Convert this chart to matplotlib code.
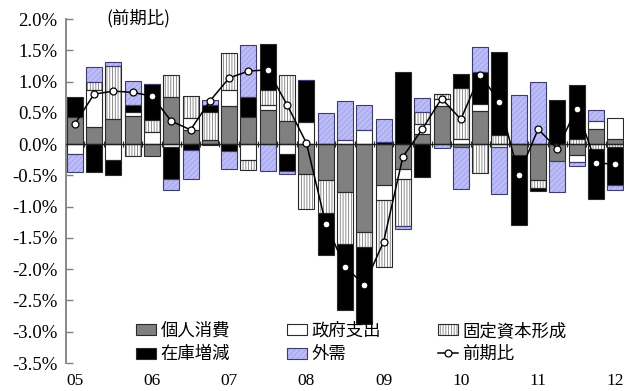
import numpy as np
import matplotlib
matplotlib.use("Agg")
import matplotlib.pyplot as plt
from matplotlib.patches import Patch
from matplotlib.lines import Line2D

# Quarterly contributions to real GDP growth (q/q, percentage points), 2005Q1-2012Q1
quarters = [f"{y}Q{q}" for y in range(2005, 2013) for q in range(1, 5)][:29]

private_consumption = [0.44, 0.28, 0.41, 0.45, -0.19, 0.76, 0.22, 0.07, 0.61, 0.44,
                       0.54, 0.37, -0.47, -0.57, -0.76, -1.40, -0.65, -0.40, 0.17, 0.61,
                       -0.05, 0.53, 0.00, -0.17, -0.57, -0.27, -0.17, 0.25, 0.08]
government = [-0.15, 0.59, -0.25, 0.06, 0.19, -0.04, 0.20, -0.02, 0.25, -0.26,
              0.08, -0.15, 0.36, 0.00, 0.07, 0.22, -0.24, -0.15, 0.16, 0.12,
              0.09, 0.12, -0.05, 0.00, 0.00, 0.00, -0.12, 0.12, 0.34]
fixed_capital = [0.00, 0.12, 0.84, -0.19, 0.19, 0.34, 0.35, 0.45, 0.60, -0.16,
                 0.24, 0.73, -0.56, -0.53, -0.84, -0.24, -1.08, -0.76, 0.18, 0.07,
                 0.81, -0.46, 0.14, 0.00, -0.13, 0.00, 0.08, -0.08, -0.05]
inventories = [0.32, -0.44, -0.24, 0.12, 0.59, -0.52, -0.10, 0.10, -0.11, 0.32,
               0.75, -0.28, 0.67, -0.67, -1.06, -1.24, 0.04, 1.16, -0.53, 0.00,
               0.22, 0.51, 1.33, -1.12, -0.05, 0.71, 0.86, -0.79, -0.60]
net_exports = [-0.30, 0.25, 0.07, 0.38, 0.00, -0.18, -0.45, 0.09, -0.28, 0.82,
               -0.43, -0.05, 0.00, 0.50, 0.62, 0.40, 0.36, -0.05, 0.23, -0.06,
               -0.67, 0.40, -0.74, 0.78, 1.00, -0.49, -0.06, 0.18, -0.09]
gdp_growth = [0.32, 0.80, 0.85, 0.83, 0.77, 0.37, 0.23, 0.69, 1.06, 1.17,
              1.19, 0.63, 0.02, -1.27, -1.96, -2.25, -1.56, -0.20, 0.24, 0.73,
              0.40, 1.11, 0.68, -0.49, 0.24, -0.07, 0.57, -0.30, -0.32]

year_labels = ["05", "06", "07", "08", "09", "10", "11", "12"]
series_names = ["個人消費", "政府支出", "固定資本形成", "在庫増減", "外需"]
line_name = "前期比"

JP = ["Noto Sans CJK JP", "DejaVu Sans"]
NUM = ["Liberation Serif", "DejaVu Serif"]

W, H = 626, 391
fig = plt.figure(figsize=(W / 100, H / 100), dpi=100)
ax = fig.add_axes([66 / W, 1 - 363 / H, 558 / W, (363 - 19.2) / H])

x = np.arange(len(quarters))
bar_w = 0.83
edge = "#2a2a2a"

styles = [
    dict(face="#808080", hatch=None, hcol="#808080", edge=edge),
    dict(face="#ffffff", hatch=None, hcol="#ffffff", edge=edge),
    dict(face="#ffffff", hatch="||||||", hcol="#7a7a7a", edge=edge),
    dict(face="#000000", hatch=None, hcol="#000000", edge=edge),
    dict(face="#bcbcf8", hatch="//////", hcol="#a0a0ea", edge="#3c3c6e"),
]
series = [private_consumption, government, fixed_capital, inventories, net_exports]

plt.rcParams["hatch.linewidth"] = 0.6

pos_base = np.zeros(len(x))
neg_base = np.zeros(len(x))
for vals, st in zip(series, styles):
    v = np.asarray(vals, dtype=float)
    bottom = np.where(v >= 0, pos_base, neg_base)
    # fill + hatch pass (hatch drawn in its own colour), then outline pass
    ax.bar(x, v, bar_w, bottom=bottom, color=st["face"], hatch=st["hatch"],
           edgecolor=st["hcol"], linewidth=0, zorder=2)
    ax.bar(x, v, bar_w, bottom=bottom, facecolor="none",
           edgecolor=st["edge"], linewidth=0.8, zorder=2.2)
    pos_base = pos_base + np.where(v > 0, v, 0)
    neg_base = neg_base + np.where(v < 0, v, 0)

ax.axhline(0, color="#202020", lw=1.0, zorder=3)
ax.plot(x, gdp_growth, "-o", color="black", lw=1.1, ms=5,
        mfc="white", mec="black", mew=0.9, zorder=5)

ax.set_xlim(-0.45, 28.45)
ax.set_ylim(-3.5, 2.0)

yt = np.arange(-3.5, 2.01, 0.5)
ax.set_yticks(yt)
ax.set_yticklabels([f"{v:.1f}%" for v in yt], family=NUM, fontsize=13.5)
ax.tick_params(axis="y", direction="in", length=5, width=1.0,
               color="#808080", pad=6)

ax.set_xticks(np.arange(0, 29, 4))
ax.set_xticklabels(year_labels, family=NUM, fontsize=12.5)
ax.tick_params(axis="x", length=0, pad=7)

for s in ("top", "right", "bottom"):
    ax.spines[s].set_visible(False)
ax.spines["left"].set_color("#808080")
ax.spines["left"].set_linewidth(1.3)

# small category ticks along the zero line
sec = ax.secondary_xaxis(3.5 / 5.5)
sec.set_xticks(np.arange(0.5, 28, 1))
sec.tick_params(direction="inout", length=5, width=0.8, color="#303030",
                labeltop=False, labelbottom=False)
for s in sec.spines.values():
    s.set_visible(False)

ax.text(0.073, 1.003, "(前期比)", transform=ax.transAxes, ha="left",
        va="center", family=JP, fontsize=12.5)

# legend
def patch_handle(st):
    fill = Patch(facecolor=st["face"], hatch=st["hatch"], edgecolor=st["hcol"], linewidth=0)
    outline = Patch(facecolor="none", edgecolor=st["edge"], linewidth=0.8)
    return (fill, outline)

handles = [patch_handle(st) for st in styles]
line_h = Line2D([], [], color="black", lw=1.1, marker="o", ms=5,
                mfc="white", mec="black", mew=0.9)
leg_handles = [handles[0], handles[3], handles[1], handles[4], handles[2], line_h]
leg_labels = [series_names[0], series_names[3], series_names[1],
              series_names[4], series_names[2], line_name]
fig.legend(leg_handles, leg_labels, ncol=3, loc="upper left",
           bbox_to_anchor=(136 / W, 1 - 322 / H), bbox_transform=fig.transFigure,
           frameon=False, prop={"family": JP, "size": 12.5},
           handlelength=1.15, handleheight=0.6, handletextpad=0.25,
           columnspacing=3.3, labelspacing=0.3, borderpad=0, borderaxespad=0)

fig.savefig("out.png", dpi=100)
